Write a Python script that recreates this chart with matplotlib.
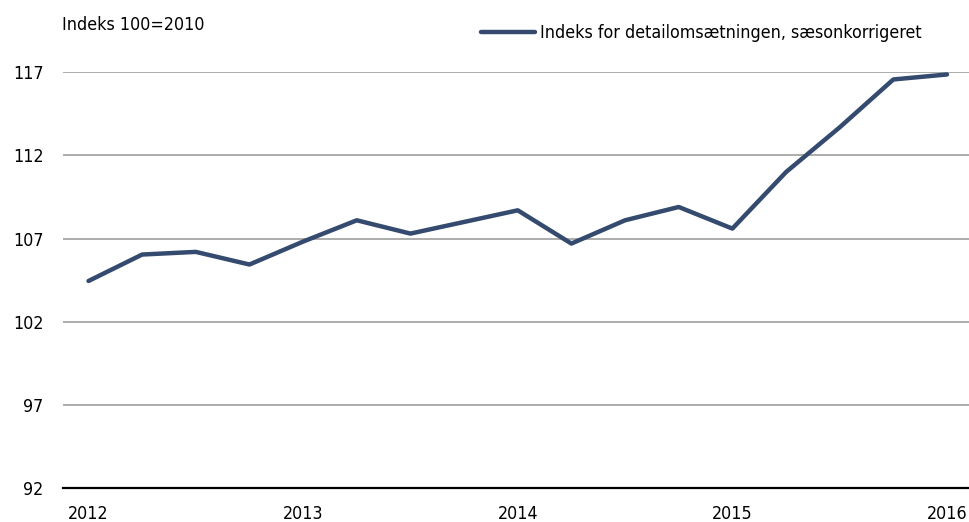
import matplotlib
matplotlib.use('Agg')
import matplotlib.pyplot as plt
from matplotlib import font_manager

# quarterly index, 2012 Q1 .. 2016 Q1
quarters = ['2012K1', '2012K2', '2012K3', '2012K4',
            '2013K1', '2013K2', '2013K3', '2013K4',
            '2014K1', '2014K2', '2014K3', '2014K4',
            '2015K1', '2015K2', '2015K3', '2015K4',
            '2016K1']
index_values = [104.45, 106.04, 106.2, 105.44,
                106.82, 108.1, 107.3, 108.0,
                108.7, 106.7, 108.1, 108.9,
                107.6, 111.0, 113.69, 116.57,
                116.87]
year_labels = ['2012', '2013', '2014', '2015', '2016']
y_ticks = [92, 97, 102, 107, 112, 117]

# look for a narrow / condensed face; the original uses a condensed sans
narrow = None
for f in font_manager.fontManager.ttflist:
    fn = f.fname.lower()
    if ('narrow' in fn or 'condensed' in fn) and f.weight in (400, 'normal', 'regular') \
            and f.style == 'normal':
        narrow = f
        break
if narrow is not None:
    plt.rcParams['font.family'] = [narrow.name, 'DejaVu Sans']
    plt.rcParams['font.stretch'] = narrow.stretch
    FS = 12.8
else:
    plt.rcParams['font.family'] = ['Roboto', 'DejaVu Sans']
    FS = 12

LINE_COLOR = '#344a6e'
GRID_COLOR = '#a6a6a6'

fig = plt.figure(figsize=(9.69, 5.22), dpi=100)
ax = fig.add_axes([63 / 969, 1 - 488 / 522, 906 / 969, (488 - 72.3) / 522])

x = list(range(len(index_values)))
ax.plot(x, index_values, color=LINE_COLOR, linewidth=3.2, solid_capstyle='round',
        label='Indeks for detailomsætningen, sæsonkorrigeret')

ax.set_ylim(92, 117)
ax.set_xlim(-0.475, 16.41)
ax.set_yticks(y_ticks)
ax.set_yticklabels([str(v) for v in y_ticks])
ax.set_xticks([0, 4, 8, 12, 16])
ax.set_xticklabels(year_labels)

for sp in ['top', 'right', 'left']:
    ax.spines[sp].set_visible(False)
ax.spines['bottom'].set_color('black')
ax.spines['bottom'].set_linewidth(1.6)
ax.spines['bottom'].set_zorder(3)

ax.grid(axis='y', color=GRID_COLOR, linewidth=1.3)
ax.set_axisbelow(True)
ax.tick_params(axis='both', length=0, labelsize=FS, colors='black')
ax.tick_params(axis='y', pad=14)
ax.tick_params(axis='x', pad=12)

fig.text(62 / 969, 1 - 25 / 522, 'Indeks 100=2010', fontsize=FS, va='center', ha='left')

ax.legend(loc='center left', bbox_to_anchor=(481 / 969, 1 - 33 / 522), bbox_transform=fig.transFigure,
          frameon=False, fontsize=FS, handlelength=3.05, handletextpad=0.25, borderpad=0, borderaxespad=0)

fig.savefig('out.png', dpi=100, facecolor='white')
